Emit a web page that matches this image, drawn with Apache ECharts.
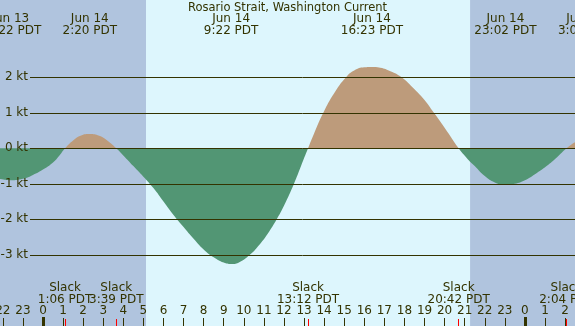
<!DOCTYPE html>
<html>
<head>
<meta charset="utf-8">
<script src="https://cdn.jsdelivr.net/npm/echarts@6/dist/echarts.min.js"></script>
<style>html,body{margin:0;padding:0;}#chart{width:575px;height:326px;}</style>
</head>
<body>
<div id="chart"></div>
<script>
// hours counted from Jun 14 00:00 PDT
var hours  = [-2.2, -1.6, -1.0, -0.5, 0.0, 0.5, 0.8, 1.1, 1.5, 1.9, 2.33, 2.8, 3.2, 3.65,
              4.0, 4.5, 5.0, 5.5, 6.0, 6.5, 7.0, 7.5, 8.0, 8.5, 9.0, 9.37, 9.8, 10.3, 10.8,
              11.2, 11.64, 12.0, 12.5, 12.85, 13.2, 13.5, 13.96, 14.5, 15.09, 15.5, 16.0,
              16.38, 16.8, 17.3, 17.86, 18.4, 19.0, 19.44, 20.0, 20.7, 21.1, 21.5, 22.0,
              22.5, 23.03, 23.5, 24.0, 24.5, 25.08, 25.6, 26.07, 26.3, 26.6];
var speeds = [-0.86, -0.9, -0.86, -0.75, -0.6, -0.4, -0.22, 0, 0.22, 0.36, 0.40, 0.35, 0.22, 0,
              -0.2, -0.5, -0.8, -1.12, -1.5, -1.88, -2.22, -2.55, -2.85, -3.07, -3.22, -3.26, -3.2, -3.0, -2.7,
              -2.4, -2.0, -1.62, -1.0, -0.5, 0, 0.42, 1.0, 1.55, 2.0, 2.19, 2.28,
              2.29, 2.27, 2.17, 2.0, 1.72, 1.36, 1.02, 0.58, 0, -0.27, -0.5, -0.78,
              -0.96, -1.03, -1.0, -0.9, -0.73, -0.5, -0.25, 0, 0.1, 0.2];

var ktTicks = [-3, -2, -1, 0, 1, 2];
var hourTicks = [-2, -1, 0, 1, 2, 3, 4, 5, 6, 7, 8, 9, 10, 11, 12, 13, 14, 15, 16, 17, 18, 19, 20,
                 21, 22, 23, 24, 25, 26];
var midnightTicks = [0, 24];
var nightSpans = [['min', 5.13], [21.27, 'max']];

var slackHours  = [1.1, 3.65, 13.2, 20.7, 26.07];
var slackTimes  = ['1:06 PDT', '3:39 PDT', '13:12 PDT', '20:42 PDT', '2:04 PDT'];
var peakHours   = [-1.63, 2.33, 9.37, 16.38, 23.03, 27.0];
var peakDates   = ['Jun 13', 'Jun 14', 'Jun 14', 'Jun 14', 'Jun 14', 'Jun 15'];
var peakTimes   = ['22:22 PDT', '2:20 PDT', '9:22 PDT', '16:23 PDT', '23:02 PDT', '3:03 PDT'];

var xMin = -2.141, xMax = 26.494, yMin = -5.005, yMax = 4.177;
var ink = '#333300';
var font = 'DejaVu Sans';

var chart = echarts.init(document.getElementById('chart'));

var curve = hours.map(function (h, i) { return [h, speeds[i]]; });

function xAx(extra) {
    var a = {
        type: 'value', min: xMin, max: xMax, position: 'bottom', z: 5,
        axisLine: {show: false, onZero: false}, splitLine: {show: false},
        axisLabel: {show: false}, axisTick: {show: false}
    };
    for (var k in extra) a[k] = extra[k];
    return a;
}

var nightEdge = function (v) { return v === 'min' ? xMin : (v === 'max' ? xMax : v); };

chart.setOption({
    backgroundColor: '#ddf6fd',
    animation: false,
    grid: [
        {left: 0, right: 0, top: 0, bottom: 0, outerBoundsMode: 'none'},
        {left: 30, right: 0, top: 0, bottom: 0, outerBoundsMode: 'none'}
    ],
    xAxis: [
        xAx({
            gridIndex: 0,
            axisLabel: {
                show: true, inside: true, margin: 9, customValues: hourTicks,
                color: ink, fontFamily: font, fontSize: 12,
                formatter: function (v) { return String(((v % 24) + 24) % 24); }
            },
            axisTick: {show: true, inside: true, length: 8, customValues: hourTicks,
                       lineStyle: {color: ink, width: 1}}
        }),
        xAx({
            gridIndex: 0,
            axisTick: {show: true, inside: true, length: 9, customValues: midnightTicks,
                       lineStyle: {color: ink, width: 3}}
        }),
        xAx({
            gridIndex: 0,
            axisTick: {show: true, inside: true, length: 7, customValues: slackHours,
                       lineStyle: {color: '#ff0000', width: 1}}
        }),
        xAx({gridIndex: 1})
    ],
    yAxis: [
        {type: 'value', gridIndex: 0, min: yMin, max: yMax, show: false},
        {type: 'value', gridIndex: 1, min: yMin, max: yMax, z: 5,
         axisLine: {show: false, onZero: false}, axisTick: {show: false}, splitLine: {show: false},
         axisLabel: {customValues: ktTicks, margin: 2, color: ink, fontFamily: font, fontSize: 12,
                     formatter: '{value} kt'}}
    ],
    visualMap: {
        show: false, type: 'piecewise', dimension: 1, seriesIndex: 2,
        pieces: [{gt: -10, lte: 0, color: '#529674'}, {gt: 0, lte: 10, color: '#bd9b7b'}]
    },
    series: [
        {
            type: 'line', xAxisIndex: 0, yAxisIndex: 0, data: [], z: 0, silent: true,
            markArea: {
                silent: true,
                itemStyle: {color: '#b0c4de'},
                data: nightSpans.map(function (s) {
                    return [{xAxis: nightEdge(s[0])}, {xAxis: nightEdge(s[1])}];
                })
            }
        },
        {
            type: 'line', xAxisIndex: 3, yAxisIndex: 1, data: [], z: 1, silent: true,
            markLine: {
                silent: true, symbol: 'none', label: {show: false},
                lineStyle: {color: ink, width: 1, type: 'solid'},
                data: ktTicks.map(function (v) { return {yAxis: v}; })
            }
        },
        {
            type: 'line', xAxisIndex: 0, yAxisIndex: 0, z: 2, data: curve,
            smooth: 0.5, showSymbol: false, silent: true,
            lineStyle: {width: 0},
            areaStyle: {opacity: 1, origin: 0}
        }
    ]
});

var texts = [{
    type: 'text', x: 287.5, y: 2, z: 100,
    style: {text: 'Rosario Strait, Washington Current', fill: ink, font: '11.5px "' + font + '"',
            textAlign: 'center', textVerticalAlign: 'top'}
}];
peakHours.forEach(function (h, i) {
    var px = chart.convertToPixel({xAxisIndex: 0}, h);
    texts.push({
        type: 'text', x: px, y: 13, z: 100,
        style: {text: peakDates[i] + '\n' + peakTimes[i], fill: ink, font: '12px "' + font + '"',
                textAlign: 'center', textVerticalAlign: 'top', lineHeight: 12}
    });
});
slackHours.forEach(function (h, i) {
    var px = chart.convertToPixel({xAxisIndex: 0}, h);
    texts.push({
        type: 'text', x: px, y: 282, z: 100,
        style: {text: 'Slack\n' + slackTimes[i], fill: ink, font: '12px "' + font + '"',
                textAlign: 'center', textVerticalAlign: 'top', lineHeight: 12}
    });
});
chart.setOption({graphic: texts});
</script>
</body>
</html>
